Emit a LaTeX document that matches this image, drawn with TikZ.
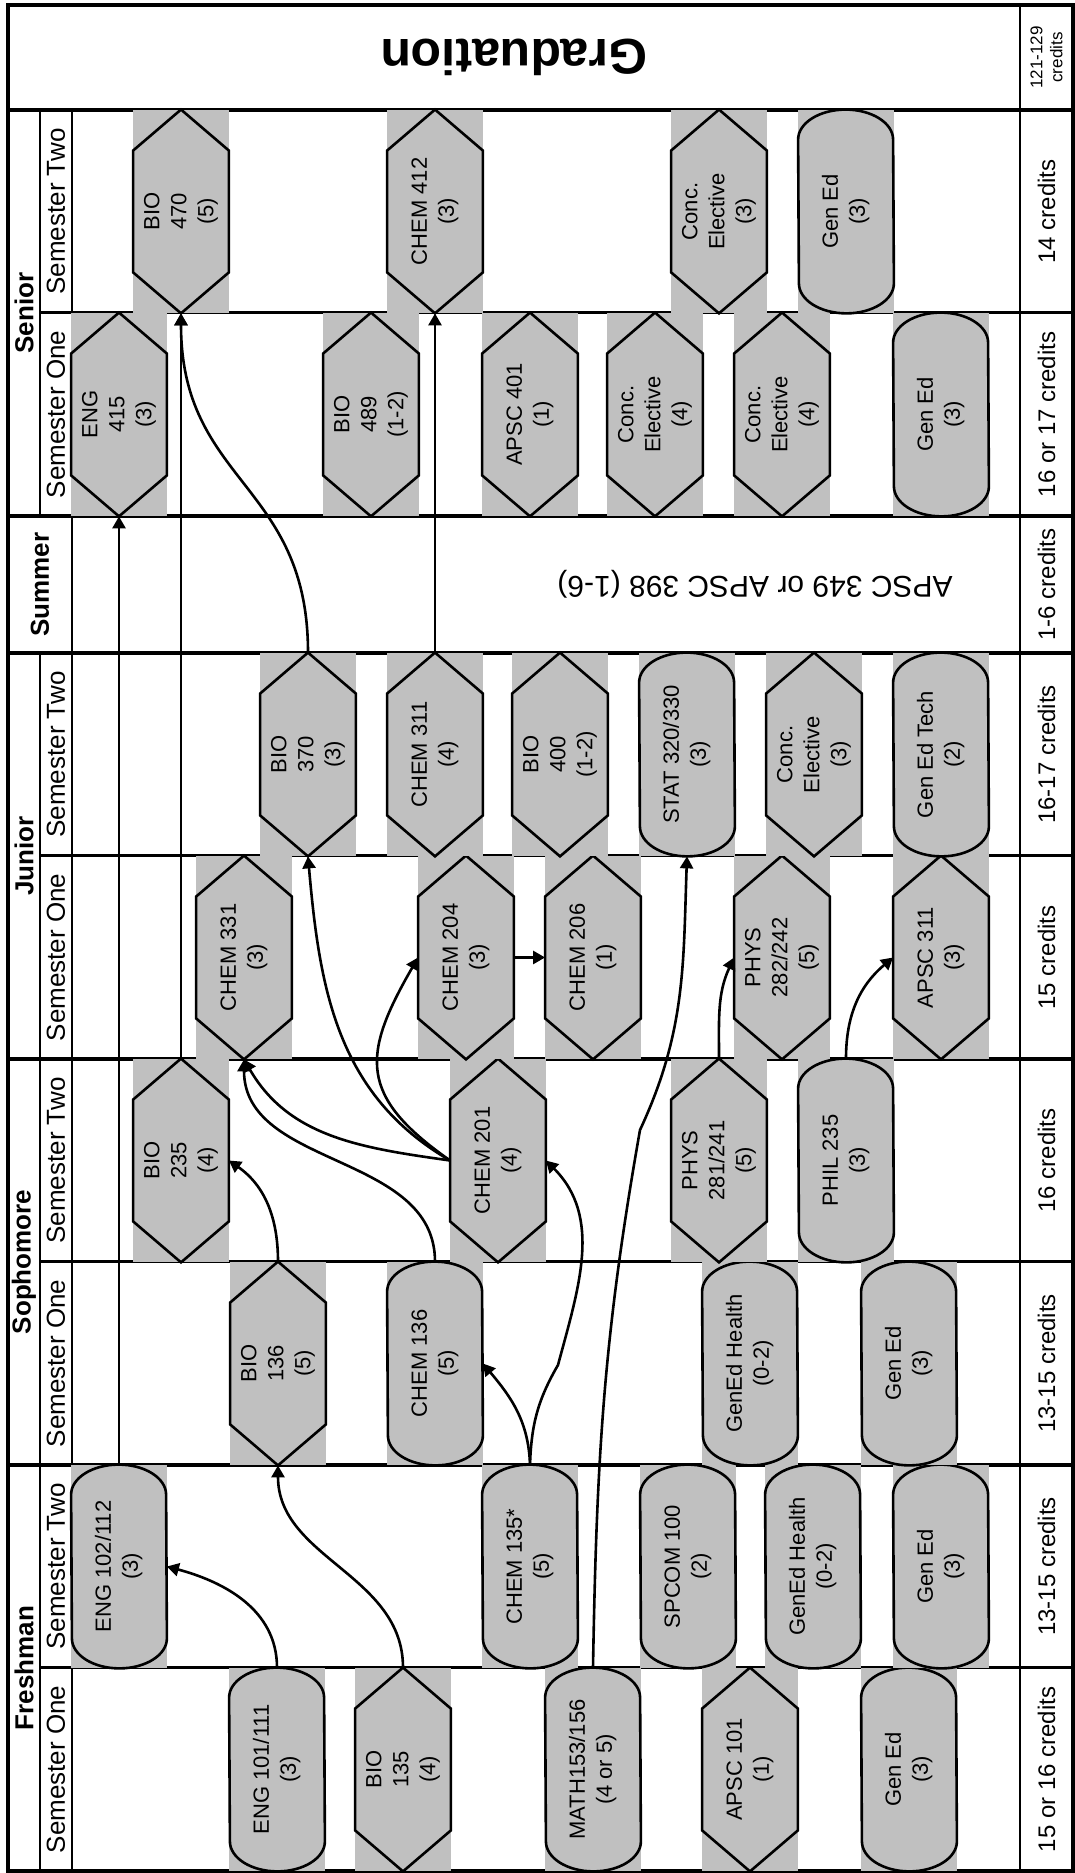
\documentclass[tikz,border=0pt]{standalone}
\usepackage{fontspec}
\setmainfont{Liberation Sans}
\usepackage{graphicx}
\usetikzlibrary{arrows.meta}
\definecolor{boxgray}{RGB}{192,192,192}

% rotated course text
\newcommand{\crs}[1]{\rotatebox{90}{\begin{tabular}{@{}c@{}}#1\end{tabular}}}

\tikzset{
    >={Triangle[length=6pt,width=6.5pt]},
    % Grid
    frame/.style={line width=2pt},
    yearline/.style={line width=2pt},
    semline/.style={line width=1.5pt},
    colline/.style={line width=1.4pt},
    % Labels
    yearlbl/.style={rotate=90, font=\fontsize{13}{15}\selectfont\bfseries},
    semlbl/.style={rotate=90, font=\fontsize{13}{15}\selectfont},
    credlbl/.style={rotate=90, font=\fontsize{12}{14}\selectfont},
    % Courses (gray box and outline are drawn before the text)
    course/.style={rectangle, inner sep=0pt,
                   minimum width=47.5pt, minimum height=101.5pt, font=\fontsize{11}{13.5}\selectfont},
    outl/.style={line width=1.3pt, line join=miter},
    hexa/.style={course, append after command={\pgfextra{\let\curnode\tikzlastnode
        \fill[boxgray] (\curnode.south west) rectangle (\curnode.north east);
        \draw[outl] (\curnode.north) -- ([yshift=-20.5pt]\curnode.north east)
            -- ([yshift=20.5pt]\curnode.south east) -- (\curnode.south)
            -- ([yshift=20.5pt]\curnode.south west) -- ([yshift=-20.5pt]\curnode.north west) -- cycle;}}},
    pill/.style={course, append after command={\pgfextra{\let\curnode\tikzlastnode
        \fill[boxgray] (\curnode.south west) rectangle (\curnode.north east);
        \draw[outl] ([yshift=-15pt]\curnode.north west)
            arc[start angle=180, end angle=0, x radius=23.75pt, y radius=15pt]
            -- ([yshift=15pt]\curnode.south east)
            arc[start angle=0, end angle=-180, x radius=23.75pt, y radius=15pt] -- cycle;}}},
    % Flow
    flow/.style={->, line width=1.3pt}
}

\begin{document}
\begin{tikzpicture}[x=0.5pt, y=0.5pt]
\useasboundingbox (0,0) rectangle (1075,1873);

% grid
\draw[frame] (8,2) rectangle (1073,1868);
\foreach \yy in {408,814,1220,1357,1763}
    \draw[yearline] (8,\yy) -- (1073,\yy);
\foreach \yy in {205,611,1017,1560}
    \draw[semline] (40,\yy) -- (1073,\yy);
\draw[colline] (40,2) -- (40,1220) (40,1357) -- (40,1763);
\draw[colline] (72,2) -- (72,1763);
\draw[colline] (1020,2) -- (1020,1868);

% year and semester labels
\node[yearlbl] (yfresh) at (24,205) {Freshman};
\node[yearlbl] (ysoph) at (24,611) {Sophomore};
\node[yearlbl] (yjun) at (24,1017) {Junior};
\node[yearlbl] (ysum) at (40,1288.5) {Summer};
\node[yearlbl] (ysen) at (24,1560) {Senior};
\foreach \yy/\sem [count=\i] in {103.5/One,306.5/Two,509.5/One,712.5/Two,915.5/One,1118.5/Two,1458.5/One,1661.5/Two}
    \node[semlbl] (sem\i) at (56,\yy) {Semester \sem};

% credits
\foreach \yy/\txt [count=\i] in {103.5/15 or 16 credits,306.5/13-15 credits,509.5/13-15 credits,712.5/16 credits,915.5/15 credits,1118.5/16-17 credits,1288.5/1-6 credits,1458.5/16 or 17 credits,1661.5/14 credits}
    \node[credlbl] (cred\i) at (1046.5,\yy) {\txt};
\node[credlbl, font=\fontsize{8.5}{10}\selectfont, align=center] (credtot) at (1046.5,1815.5) {121-129\\credits};

\node[rotate=180, font=\fontsize{25}{30}\selectfont\bfseries] (grad) at (514,1815.5) {Graduation};
\node[rotate=180, font=\fontsize{15}{18}\selectfont] (summer) at (755,1289) {APSC 349 or APSC 398 (1-6)};

% Freshman
\node[pill] (eng101) at (277,103.5) {\crs{ENG 101/111\\(3)}};
\node[hexa] (bio135) at (403,103.5) {\crs{BIO\\135\\(4)}};
\node[pill] (math153) at (593,103.5) {\crs{MATH153/156\\(4 or 5)}};
\node[hexa] (apsc101) at (750,103.5) {\crs{APSC 101\\(1)}};
\node[pill] (gened1) at (909,103.5) {\crs{Gen Ed\\(3)}};

\node[pill] (eng102) at (119,306.5) {\crs{ENG 102/112\\(3)}};
\node[pill] (chem135) at (530,306.5) {\crs{CHEM 135*\\(5)}};
\node[pill] (spcom100) at (688,306.5) {\crs{SPCOM 100\\(2)}};
\node[pill] (genedh1) at (813,306.5) {\crs{GenEd Health\\(0-2)}};
\node[pill] (gened2) at (941,306.5) {\crs{Gen Ed\\(3)}};

% Sophomore
\node[hexa] (bio136) at (278,509.5) {\crs{BIO\\136\\(5)}};
\node[pill] (chem136) at (435,509.5) {\crs{CHEM 136\\(5)}};
\node[pill] (genedh2) at (750,509.5) {\crs{GenEd Health\\(0-2)}};
\node[pill] (gened3) at (909,509.5) {\crs{Gen Ed\\(3)}};

\node[hexa] (bio235) at (181,712.5) {\crs{BIO\\235\\(4)}};
\node[hexa] (chem201) at (498,712.5) {\crs{CHEM 201\\(4)}};
\node[hexa] (phys281) at (719,712.5) {\crs{PHYS\\281/241\\(5)}};
\node[pill] (phil235) at (846,712.5) {\crs{PHIL 235\\(3)}};

% Junior
\node[hexa] (chem331) at (244,915.5) {\crs{CHEM 331\\(3)}};
\node[hexa] (chem204) at (466,915.5) {\crs{CHEM 204\\(3)}};
\node[hexa] (chem206) at (593,915.5) {\crs{CHEM 206\\(1)}};
\node[hexa] (phys282) at (782,915.5) {\crs{PHYS\\282/242\\(5)}};
\node[hexa] (apsc311) at (941,915.5) {\crs{APSC 311\\(3)}};

\node[hexa] (bio370) at (308,1118.5) {\crs{BIO\\370\\(3)}};
\node[hexa] (chem311) at (435,1118.5) {\crs{CHEM 311\\(4)}};
\node[hexa] (bio400) at (560,1118.5) {\crs{BIO\\400\\(1-2)}};
\node[pill] (stat320) at (687,1118.5) {\crs{STAT 320/330\\(3)}};
\node[hexa] (concel1) at (814,1118.5) {\crs{Conc.\\Elective\\(3)}};
\node[pill] (gentech) at (941,1118.5) {\crs{Gen Ed Tech\\(2)}};

% Senior
\node[hexa] (eng415) at (119,1458.5) {\crs{ENG\\415\\(3)}};
\node[hexa] (bio489) at (371,1458.5) {\crs{BIO\\489\\(1-2)}};
\node[hexa] (apsc401) at (530,1458.5) {\crs{APSC 401\\(1)}};
\node[hexa] (concel2) at (655,1458.5) {\crs{Conc.\\Elective\\(4)}};
\node[hexa] (concel3) at (782,1458.5) {\crs{Conc.\\Elective\\(4)}};
\node[pill] (gened4) at (941,1458.5) {\crs{Gen Ed\\(3)}};

\node[hexa] (bio470) at (181,1661.5) {\crs{BIO\\470\\(5)}};
\node[hexa] (chem412) at (435,1661.5) {\crs{CHEM 412\\(3)}};
\node[hexa] (concel4) at (719,1661.5) {\crs{Conc.\\Elective\\(3)}};
\node[pill] (gened5) at (846,1661.5) {\crs{Gen Ed\\(3)}};

% bends of the long curves
\coordinate (kchem) at (558,508);
\coordinate (kmath) at (640,743);

% prerequisites
\draw[flow] (eng101.north) to[out=90,in=-15] (eng102.east);
\draw[flow] (bio135.north) to[out=90,in=-90] (bio136.south);
\draw[flow] (chem135.north) to[out=92,in=-50] (chem136.east);
\draw[flow] (chem135.north) to[out=88,in=-120] (kchem) to[out=75,in=-45] (chem201.east);
\draw[flow] (bio136.north) to[out=90,in=-35] (bio235.east);
\draw[flow] (chem136.north) to[out=90,in=-90] (chem331.south);
\draw[flow] (chem201.west) to[out=172,in=-60] (chem331.south);
\draw[flow] (chem201.west) to[out=150,in=-85] (bio370.south);
\draw[flow] (chem201.west) to[out=145,in=-120,looseness=1.4] (chem204.west);
\draw[flow] (chem204.east) -- (chem206.west);
\draw[flow] (phys281.north) to[out=90,in=-115] (phys282.west);
\draw[flow] (phil235.north) to[out=90,in=-140] (apsc311.west);
\draw[flow] (math153.north) to[out=89,in=-100] (kmath) to[out=65,in=-92] (stat320.south);
\draw[flow] (eng102.north) -- (eng415.south);
\draw[flow] (bio235.north) -- (bio470.south);
\draw[flow] (bio370.north) to[out=90,in=-90,looseness=1.2] (bio470.south);
\draw[flow] (chem311.north) -- (chem412.south);

\end{tikzpicture}
\end{document}
